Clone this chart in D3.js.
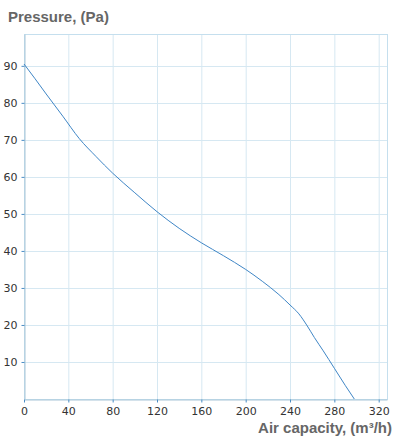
<!DOCTYPE html>
<html><head><meta charset="utf-8">
<script src="https://cdn.jsdelivr.net/npm/d3@7"></script>
<style>body{margin:0;background:#fff}text{font-family:"DejaVu Sans",Verdana,sans-serif}</style>
</head><body><div id="chart"></div>
<script>
const airflow = [0, 10, 20, 35, 50, 65, 80, 100, 120, 140, 160, 180, 200, 215, 230, 240, 248, 255, 262, 270, 280, 290, 298];
const pressure = [90.5, 86.5, 82.4, 76.4, 70.3, 65.5, 61, 55.7, 50.6, 46.1, 42.2, 38.7, 35, 31.8, 28.2, 25.4, 23, 20, 16.6, 13, 8.3, 3.6, 0];
const xTicks = [0, 40, 80, 120, 160, 200, 240, 280, 320];
const yTicks = [10, 20, 30, 40, 50, 60, 70, 80, 90];

const width = 401, height = 440;
const margin = {top: 34, left: 24, right: 14, bottom: 41};

const svg = d3.select("#chart").append("svg").attr("width", width).attr("height", height);

const x = d3.scaleLinear().domain([0, 327.5]).range([margin.left, width - margin.right]);
const y = d3.scaleLinear().domain([0, 98.6]).range([height - margin.bottom, margin.top]);

const grid = svg.append("g").attr("stroke", "#d6e8f2").attr("stroke-width", 1);
xTicks.forEach(function(t) {
    grid.append("line").attr("x1", x(t) + 0.5).attr("x2", x(t) + 0.5)
        .attr("y1", y.range()[1]).attr("y2", y.range()[0]);
});
yTicks.forEach(function(t) {
    grid.append("line").attr("y1", Math.round(y(t)) + 0.5).attr("y2", Math.round(y(t)) + 0.5)
        .attr("x1", x.range()[0]).attr("x2", x.range()[1]);
});
// frame
svg.append("rect").attr("x", x.range()[0] + 0.5).attr("y", y.range()[1] + 0.5)
    .attr("width", x.range()[1] - x.range()[0]).attr("height", y.range()[0] - y.range()[1])
    .attr("fill", "none").attr("stroke", "#c5dfee");

const xAxis = svg.append("g").attr("transform", `translate(0,${y.range()[0] + 0.5})`)
    .call(d3.axisBottom(x).tickValues(xTicks).tickSize(3).tickSizeOuter(0));
const yAxis = svg.append("g").attr("transform", `translate(${x.range()[0] + 0.5},0)`)
    .call(d3.axisLeft(y).tickValues(yTicks).tickSize(3).tickSizeOuter(0));
[xAxis, yAxis].forEach(function(a) {
    a.select(".domain").attr("stroke", "#a9c6d8");
    a.selectAll(".tick line").attr("stroke", "#4a8cc4");
    a.selectAll("text").attr("fill", "#333").style("font-size", "11px");
});
xAxis.selectAll("text").attr("dy", "0.9em");
yAxis.selectAll("text").attr("dx", "-1px");

const line = d3.line().x(function(d, i) { return x(airflow[i]); })
    .y(function(d) { return y(d); }).curve(d3.curveMonotoneX);
svg.append("path").datum(pressure).attr("d", line)
    .attr("fill", "none").attr("stroke", "#3f86c6").attr("stroke-width", 1);

svg.append("text").attr("x", 8).attr("y", 22).text("Pressure, (Pa)")
    .attr("fill", "#666").style("font-family", "'Liberation Sans',Arial,sans-serif")
    .style("font-size", "15px").style("font-weight", "bold");
svg.append("text").attr("x", 392).attr("y", 433).attr("text-anchor", "end")
    .text("Air capacity, (m³/h)")
    .attr("fill", "#666").style("font-family", "'Liberation Sans',Arial,sans-serif")
    .style("font-size", "15px").style("font-weight", "bold");
</script></body></html>
